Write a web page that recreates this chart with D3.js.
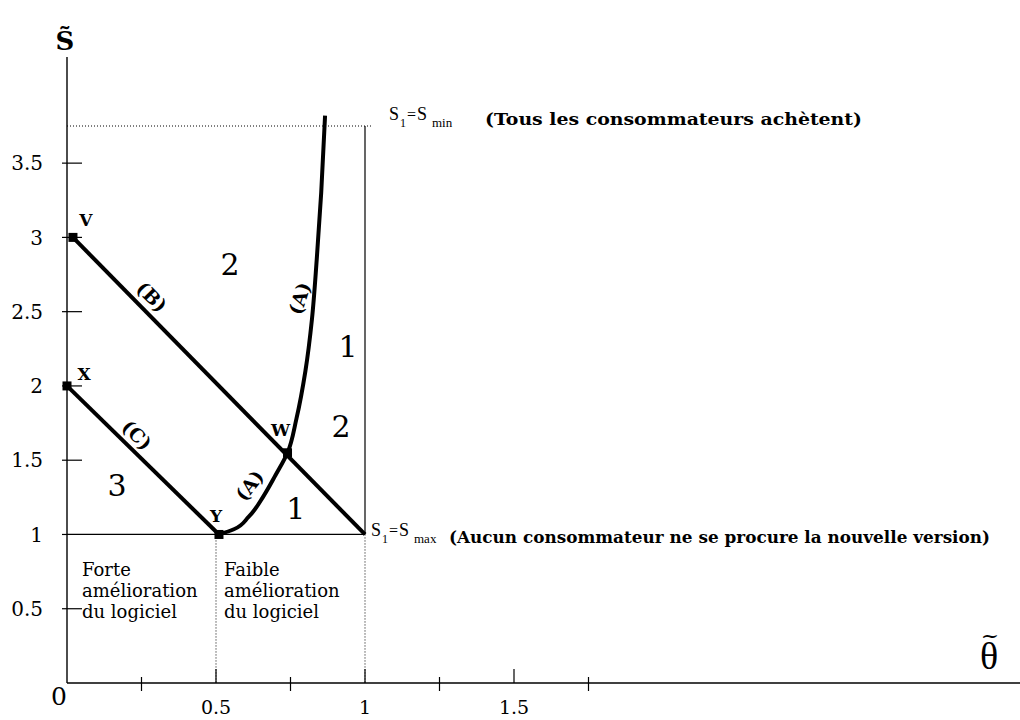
<!DOCTYPE html>
<html>
<head>
<meta charset="utf-8">
<script src="https://cdn.jsdelivr.net/npm/d3@7"></script>
<style>
  html, body { margin: 0; padding: 0; background: #fff; }
  svg { display: block; }
  text { fill: #000; }
</style>
</head>
<body>
<div id="chart"></div>
<script>
// ---------- data ----------
const xTicks = [0.25, 0.5, 0.75, 1, 1.25, 1.5, 1.75];
const xTickLabels = ["0.5", "1", "1.5"];
const xTickLabelValues = [0.5, 1, 1.5];
const yTicks = [0.5, 1, 1.5, 2, 2.5, 3, 3.5];
const yTickLabels = ["0.5", "1", "1.5", "2", "2.5", "3", "3.5"];

// reference levels
const sMax = 1;        // S1 = Smax
const sMin = 3.75;     // S1 = Smin
const thetaMid = 0.5;  // boundary forte / faible
const thetaMax = 1;

// named points
const pointNames = ["V", "X", "Y", "W"];
const pointTheta = [0.02, 0, 0.51, 0.74];
const pointS = [3, 2, 1, 1.55];

// line (B): V -> (1, 1); line (C): X -> Y
const lineBTheta = [0.02, 1];
const lineBS = [3, 1];
const lineCTheta = [0, 0.51];
const lineCS = [2, 1];

// curve (A)
const curveATheta = [0.51, 0.56, 0.61, 0.66, 0.70, 0.74, 0.77, 0.80, 0.822, 0.838, 0.853, 0.866];
const curveAS     = [1.00, 1.035, 1.12, 1.26, 1.40, 1.55, 1.78, 2.10, 2.45, 2.85, 3.30, 3.82];

// region numbers
const regionLabels = ["2", "1", "2", "1", "3"];
const regionTheta = [0.547, 0.943, 0.920, 0.768, 0.168];
const regionS = [2.82, 2.27, 1.73, 1.18, 1.33];

// circled curve names
const curveLabels = ["(B)", "(C)", "(A)", "(A)"];
const curveLabelTheta = [0.285, 0.235, 0.612, 0.780];
const curveLabelS = [2.60, 1.67, 1.33, 2.59];
const curveLabelAngle = [45, 45, -52, -72];

const zoneText1 = ["Forte", "amélioration", "du logiciel"];
const zoneText2 = ["Faible", "amélioration", "du logiciel"];
const noteTop = "(Tous les consommateurs achètent)";
const noteBottom = "(Aucun consommateur ne se procure la nouvelle version)";

// ---------- drawing ----------
const W = 1020, H = 720;
const svg = d3.select("#chart").append("svg").attr("width", W).attr("height", H);

const x = d3.scaleLinear().domain([0, 1]).range([67, 365]);
const y = d3.scaleLinear().domain([0, sMin]).range([683, 126]);

const serif = "'DejaVu Serif', 'Liberation Serif', serif";

// x axis line and ticks
svg.append("line").attr("x1", x(0)).attr("x2", W).attr("y1", y(0)).attr("y2", y(0))
  .attr("stroke", "#000").attr("stroke-width", 1.4);
svg.selectAll(".xt").data(xTicks).enter().append("line")
  .attr("x1", d => x(d)).attr("x2", d => x(d))
  .attr("y1", (d, i) => y(0) + (i % 2 === 0 ? 8 : 0))
  .attr("y2", (d, i) => y(0) - (i % 2 === 0 ? 6 : 14))
  .attr("stroke", "#000").attr("stroke-width", 1.2);

// y axis line and ticks
svg.append("line").attr("x1", x(0)).attr("x2", x(0)).attr("y1", y(0)).attr("y2", 57)
  .attr("stroke", "#000").attr("stroke-width", 1.4);
svg.selectAll(".yt").data(yTicks).enter().append("line")
  .attr("x1", x(0) - 5).attr("x2", d => d === sMax ? x(0) : x(0) + 15)
  .attr("y1", d => y(d)).attr("y2", d => y(d))
  .attr("stroke", "#000").attr("stroke-width", 1.2);

// tick labels
svg.selectAll(".yl").data(yTicks).enter().append("text")
  .attr("x", 43).attr("y", d => y(d)).attr("dy", "0.36em")
  .attr("text-anchor", "end").attr("font-family", serif).attr("font-size", 20)
  .text((d, i) => yTickLabels[i]);
svg.selectAll(".xl").data(xTickLabelValues).enter().append("text")
  .attr("x", d => x(d)).attr("y", 714)
  .attr("text-anchor", "middle").attr("font-family", serif).attr("font-size", 19)
  .text((d, i) => xTickLabels[i]);
svg.append("text").attr("x", x(0) - 8).attr("y", 705)
  .attr("text-anchor", "middle").attr("font-family", serif).attr("font-size", 25).text("0");

// axis titles
svg.append("text").attr("x", 65).attr("y", 50).attr("text-anchor", "middle")
  .attr("font-family", serif).attr("font-weight", "bold").attr("font-size", 26).text("S\u0303");
svg.append("text").attr("x", 989).attr("y", 669).attr("text-anchor", "middle")
  .attr("font-family", "'Liberation Serif', serif").attr("font-size", 38).text("θ");
svg.append("text").attr("x", 990).attr("y", 643).attr("text-anchor", "middle")
  .attr("font-family", serif).attr("font-size", 22).text("~");

// reference lines
svg.append("line").attr("x1", x(0)).attr("x2", x(thetaMax)).attr("y1", y(sMax)).attr("y2", y(sMax))
  .attr("stroke", "#000").attr("stroke-width", 1.2);
svg.append("line").attr("x1", x(thetaMax)).attr("x2", x(thetaMax)).attr("y1", y(sMin)).attr("y2", y(sMax))
  .attr("stroke", "#000").attr("stroke-width", 1.2);
svg.append("line").attr("x1", x(0)).attr("x2", x(thetaMax) + 8).attr("y1", y(sMin)).attr("y2", y(sMin))
  .attr("stroke", "#000").attr("stroke-width", 1).attr("stroke-dasharray", "1,2");
[thetaMid, thetaMax].forEach(t => {
  svg.append("line").attr("x1", x(t)).attr("x2", x(t)).attr("y1", y(sMax)).attr("y2", y(0))
    .attr("stroke", "#000").attr("stroke-width", 1).attr("stroke-dasharray", "1,2");
});

// thick curves
const lineGen = d3.line().x(d => x(d[0])).y(d => y(d[1]));
const thick = (pts, curve) => svg.append("path")
  .attr("d", lineGen.curve(curve || d3.curveLinear)(pts))
  .attr("fill", "none").attr("stroke", "#000").attr("stroke-width", 4).attr("stroke-linecap", "butt");
thick(lineBTheta.map((t, i) => [t, lineBS[i]]));
thick(lineCTheta.map((t, i) => [t, lineCS[i]]));
thick(curveATheta.map((t, i) => [t, curveAS[i]]), d3.curveMonotoneY);

// point markers
svg.selectAll(".pt").data(pointNames).enter().append("rect")
  .attr("x", (d, i) => x(pointTheta[i]) - 4.5).attr("y", (d, i) => y(pointS[i]) - 4.5)
  .attr("width", 9).attr("height", 9).attr("fill", "#000");

// point labels
const ptLabelDx = [13, 17, -3, -7];
const ptLabelDy = [-18, -12, -19, -23];
svg.selectAll(".pl").data(pointNames).enter().append("text")
  .attr("x", (d, i) => x(pointTheta[i]) + ptLabelDx[i])
  .attr("y", (d, i) => y(pointS[i]) + ptLabelDy[i]).attr("dy", "0.36em")
  .attr("text-anchor", "middle").attr("font-family", serif).attr("font-weight", "bold")
  .attr("font-size", 17).text(d => d);

// region numbers
svg.selectAll(".rg").data(regionLabels).enter().append("text")
  .attr("x", (d, i) => x(regionTheta[i])).attr("y", (d, i) => y(regionS[i])).attr("dy", "0.36em")
  .attr("text-anchor", "middle").attr("font-family", serif).attr("font-size", 30).text(d => d);

// curve name labels
svg.selectAll(".cl").data(curveLabels).enter().append("text")
  .attr("transform", (d, i) => `translate(${x(curveLabelTheta[i])},${y(curveLabelS[i])}) rotate(${curveLabelAngle[i]})`)
  .attr("dy", "0.36em").attr("text-anchor", "middle")
  .attr("font-family", serif).attr("font-weight", "bold").attr("font-size", 19).text(d => d);

// zone texts
const zone = (lines, x0) => lines.forEach((s, i) => svg.append("text")
  .attr("x", x0).attr("y", 576 + i * 21).attr("font-family", serif).attr("font-size", 18).text(s));
zone(zoneText1, x(0) + 15);
zone(zoneText2, x(thetaMid) + 8);

// S1 = Smin / Smax labels
const sLabel = (x0, yb, sub2) => {
  const g = svg.append("g").attr("font-family", "'Liberation Serif', serif");
  g.append("text").attr("x", x0).attr("y", yb).attr("font-size", 18).text("S");
  g.append("text").attr("x", x0 + 11).attr("y", yb + 7).attr("font-size", 12).text("1");
  g.append("text").attr("x", x0 + 18).attr("y", yb).attr("font-size", 16).text("=");
  g.append("text").attr("x", x0 + 28).attr("y", yb).attr("font-size", 18).text("S");
  g.append("text").attr("x", x0 + 43).attr("y", yb + 7).attr("font-size", 13).text(sub2);
};
sLabel(x(thetaMax) + 24, y(sMin) - 6, "min");
sLabel(x(thetaMax) + 6, y(sMax) + 2, "max");

svg.append("text").attr("x", 485).attr("y", 125).attr("font-family", serif).attr("font-weight", "bold")
  .attr("font-size", 17).attr("textLength", 377).attr("lengthAdjust", "spacingAndGlyphs").text(noteTop);
svg.append("text").attr("x", 449).attr("y", 543).attr("font-family", serif).attr("font-weight", "bold")
  .attr("font-size", 17).attr("textLength", 541).attr("lengthAdjust", "spacingAndGlyphs").text(noteBottom);
</script>
</body>
</html>
